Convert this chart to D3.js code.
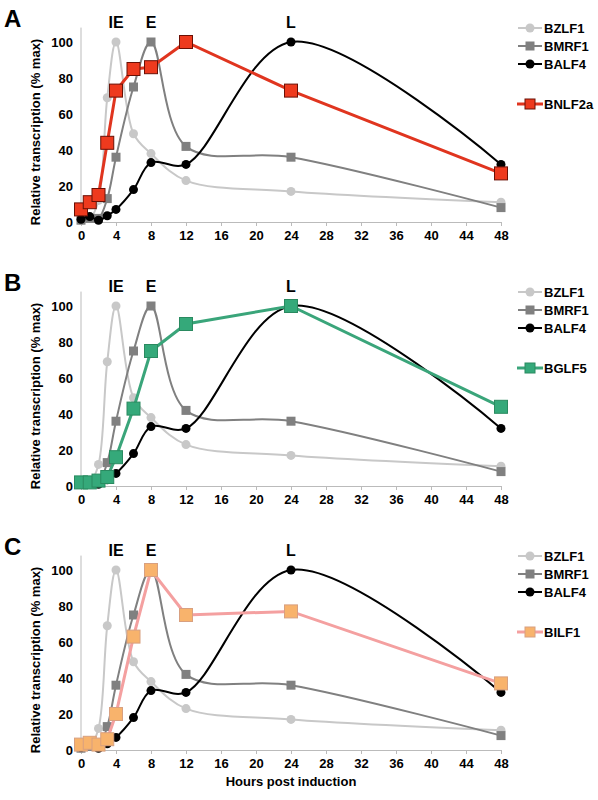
<!DOCTYPE html>
<html><head><meta charset="utf-8">
<script src="https://cdn.jsdelivr.net/npm/d3@7"></script>
<style>body{margin:0;background:#fff}text{font-family:Arial,"Liberation Sans",sans-serif;font-weight:bold}</style>
</head><body><div id="chart"></div>
<script>
const hours = [0, 1, 2, 3, 4, 6, 8, 12, 24, 48];
const bzlf1 = [1, 2, 12, 69, 100, 49, 38, 23, 17, 11];
const bmrf1 = [1, 2, 2, 13, 36, 75, 100, 42, 36, 8];
const balf4 = [1.5, 3, 1, 3.5, 7, 18, 33, 32, 100, 32];
const bnlf2a = [7, 11, 15, 44, 73, 85, 86, 100, 73, 27];
const bglf5 = [2, 2, 3, 5, 16, 43, 75, 90, 100, 44];
const bilf1 = [3, 4, 3, 6, 20, 63, 100, 75, 77, 37];
const xTicks = d3.range(0, 49, 4);
const yTicks = [0, 20, 40, 60, 80, 100];
const phases = [{ t: "IE", h: 4 }, { t: "E", h: 8 }, { t: "L", h: 24 }];

const panels = [
  { letter: "A", name: "BNLF2a", vals: bnlf2a, line: "#e0351f", fill: "#ee3a1e", stroke: "#6a1005" },
  { letter: "B", name: "BGLF5", vals: bglf5, line: "#3aa57a", fill: "#35a97a", stroke: "#2a8a60" },
  { letter: "C", name: "BILF1", vals: bilf1, line: "#f4a0a0", fill: "#f8b36c", stroke: "#d8a080" }
];

const svg = d3.select("#chart").append("svg").attr("width", 598).attr("height", 800);
const x = d3.scaleLinear().domain([0, 48]).range([81, 501]);

panels.forEach((p, i) => {
  const off = i * 264;
  const y = d3.scaleLinear().domain([0, 100]).range([222 + off, 42 + off]);
  const g = svg.append("g");

  g.append("text").attr("x", 4).attr("y", 27 + off).attr("font-size", 24).text(p.letter);

  const xa = g.append("g").attr("transform", `translate(0,${y(0)})`)
    .call(d3.axisBottom(x).tickValues(xTicks).tickSize(4).tickPadding(5));
  xa.select(".domain").attr("stroke", "#bbb");
  xa.selectAll(".tick line").attr("stroke", "#bbb");
  xa.selectAll("text").attr("font-size", 13).attr("fill", "#000");

  const ya = g.append("g").attr("transform", `translate(${x(0)},0)`)
    .call(d3.axisLeft(y).tickValues(yTicks).tickSize(0).tickPadding(8));
  ya.select(".domain").attr("d", `M0,${y(0)}V${y(108)}`).attr("stroke", "#bbb");
  ya.selectAll("text").attr("font-size", 13).attr("fill", "#000");

  g.append("text").attr("transform", `translate(40,${y(50)}) rotate(-90)`)
    .attr("text-anchor", "middle").attr("font-size", 13).text("Relative transcription (% max)");

  phases.forEach(ph => g.append("text").attr("x", x(ph.h)).attr("y", 28 + off)
    .attr("text-anchor", "middle").attr("font-size", 16).text(ph.t));

  const smooth = d3.line().x((d, j) => x(hours[j])).y(d => y(d)).curve(d3.curveCatmullRom.alpha(0.5));
  const straight = d3.line().x((d, j) => x(hours[j])).y(d => y(d));

  const bg = [
    { name: "BZLF1", vals: bzlf1, c: "#c8c8c8", shape: "circle" },
    { name: "BMRF1", vals: bmrf1, c: "#808080", shape: "square" },
    { name: "BALF4", vals: balf4, c: "#000", shape: "circle" }
  ];
  bg.forEach(s => {
    g.append("path").attr("d", smooth(s.vals)).attr("fill", "none").attr("stroke", s.c).attr("stroke-width", 2);
    if (s.shape === "circle")
      g.selectAll(null).data(s.vals).join("circle").attr("cx", (d, j) => x(hours[j])).attr("cy", d => y(d)).attr("r", 4.5).attr("fill", s.c);
    else
      g.selectAll(null).data(s.vals).join("rect").attr("x", (d, j) => x(hours[j]) - 4.5).attr("y", d => y(d) - 4.5)
        .attr("width", 9).attr("height", 9).attr("fill", s.c);
  });

  g.append("path").attr("d", straight(p.vals)).attr("fill", "none").attr("stroke", p.line).attr("stroke-width", 3);
  g.selectAll(null).data(p.vals).join("rect").attr("x", (d, j) => x(hours[j]) - 6.5).attr("y", d => y(d) - 6.5)
    .attr("width", 13).attr("height", 13).attr("fill", p.fill).attr("stroke", p.stroke).attr("stroke-width", 1);

  // legend
  const leg = bg.map((s, k) => ({ ...s, ly: 28 + k * 18 + off }));
  leg.forEach(s => {
    g.append("line").attr("x1", 518).attr("x2", 542).attr("y1", s.ly).attr("y2", s.ly).attr("stroke", s.c).attr("stroke-width", 2);
    if (s.shape === "circle") g.append("circle").attr("cx", 530).attr("cy", s.ly).attr("r", 4.5).attr("fill", s.c);
    else g.append("rect").attr("x", 525.5).attr("y", s.ly - 4.5).attr("width", 9).attr("height", 9).attr("fill", s.c);
    g.append("text").attr("x", 544).attr("y", s.ly + 5).attr("font-size", 13).text(s.name);
  });
  const gy = 104 + off;
  g.append("line").attr("x1", 517).attr("x2", 543).attr("y1", gy).attr("y2", gy).attr("stroke", p.line).attr("stroke-width", 3);
  g.append("rect").attr("x", 525).attr("y", gy - 5).attr("width", 10).attr("height", 10).attr("fill", p.fill).attr("stroke", p.stroke);
  g.append("text").attr("x", 544).attr("y", gy + 5).attr("font-size", 13).text(p.name);
});

svg.append("text").attr("x", x(24)).attr("y", 786).attr("text-anchor", "middle").attr("font-size", 13).text("Hours post induction");
</script></body></html>
